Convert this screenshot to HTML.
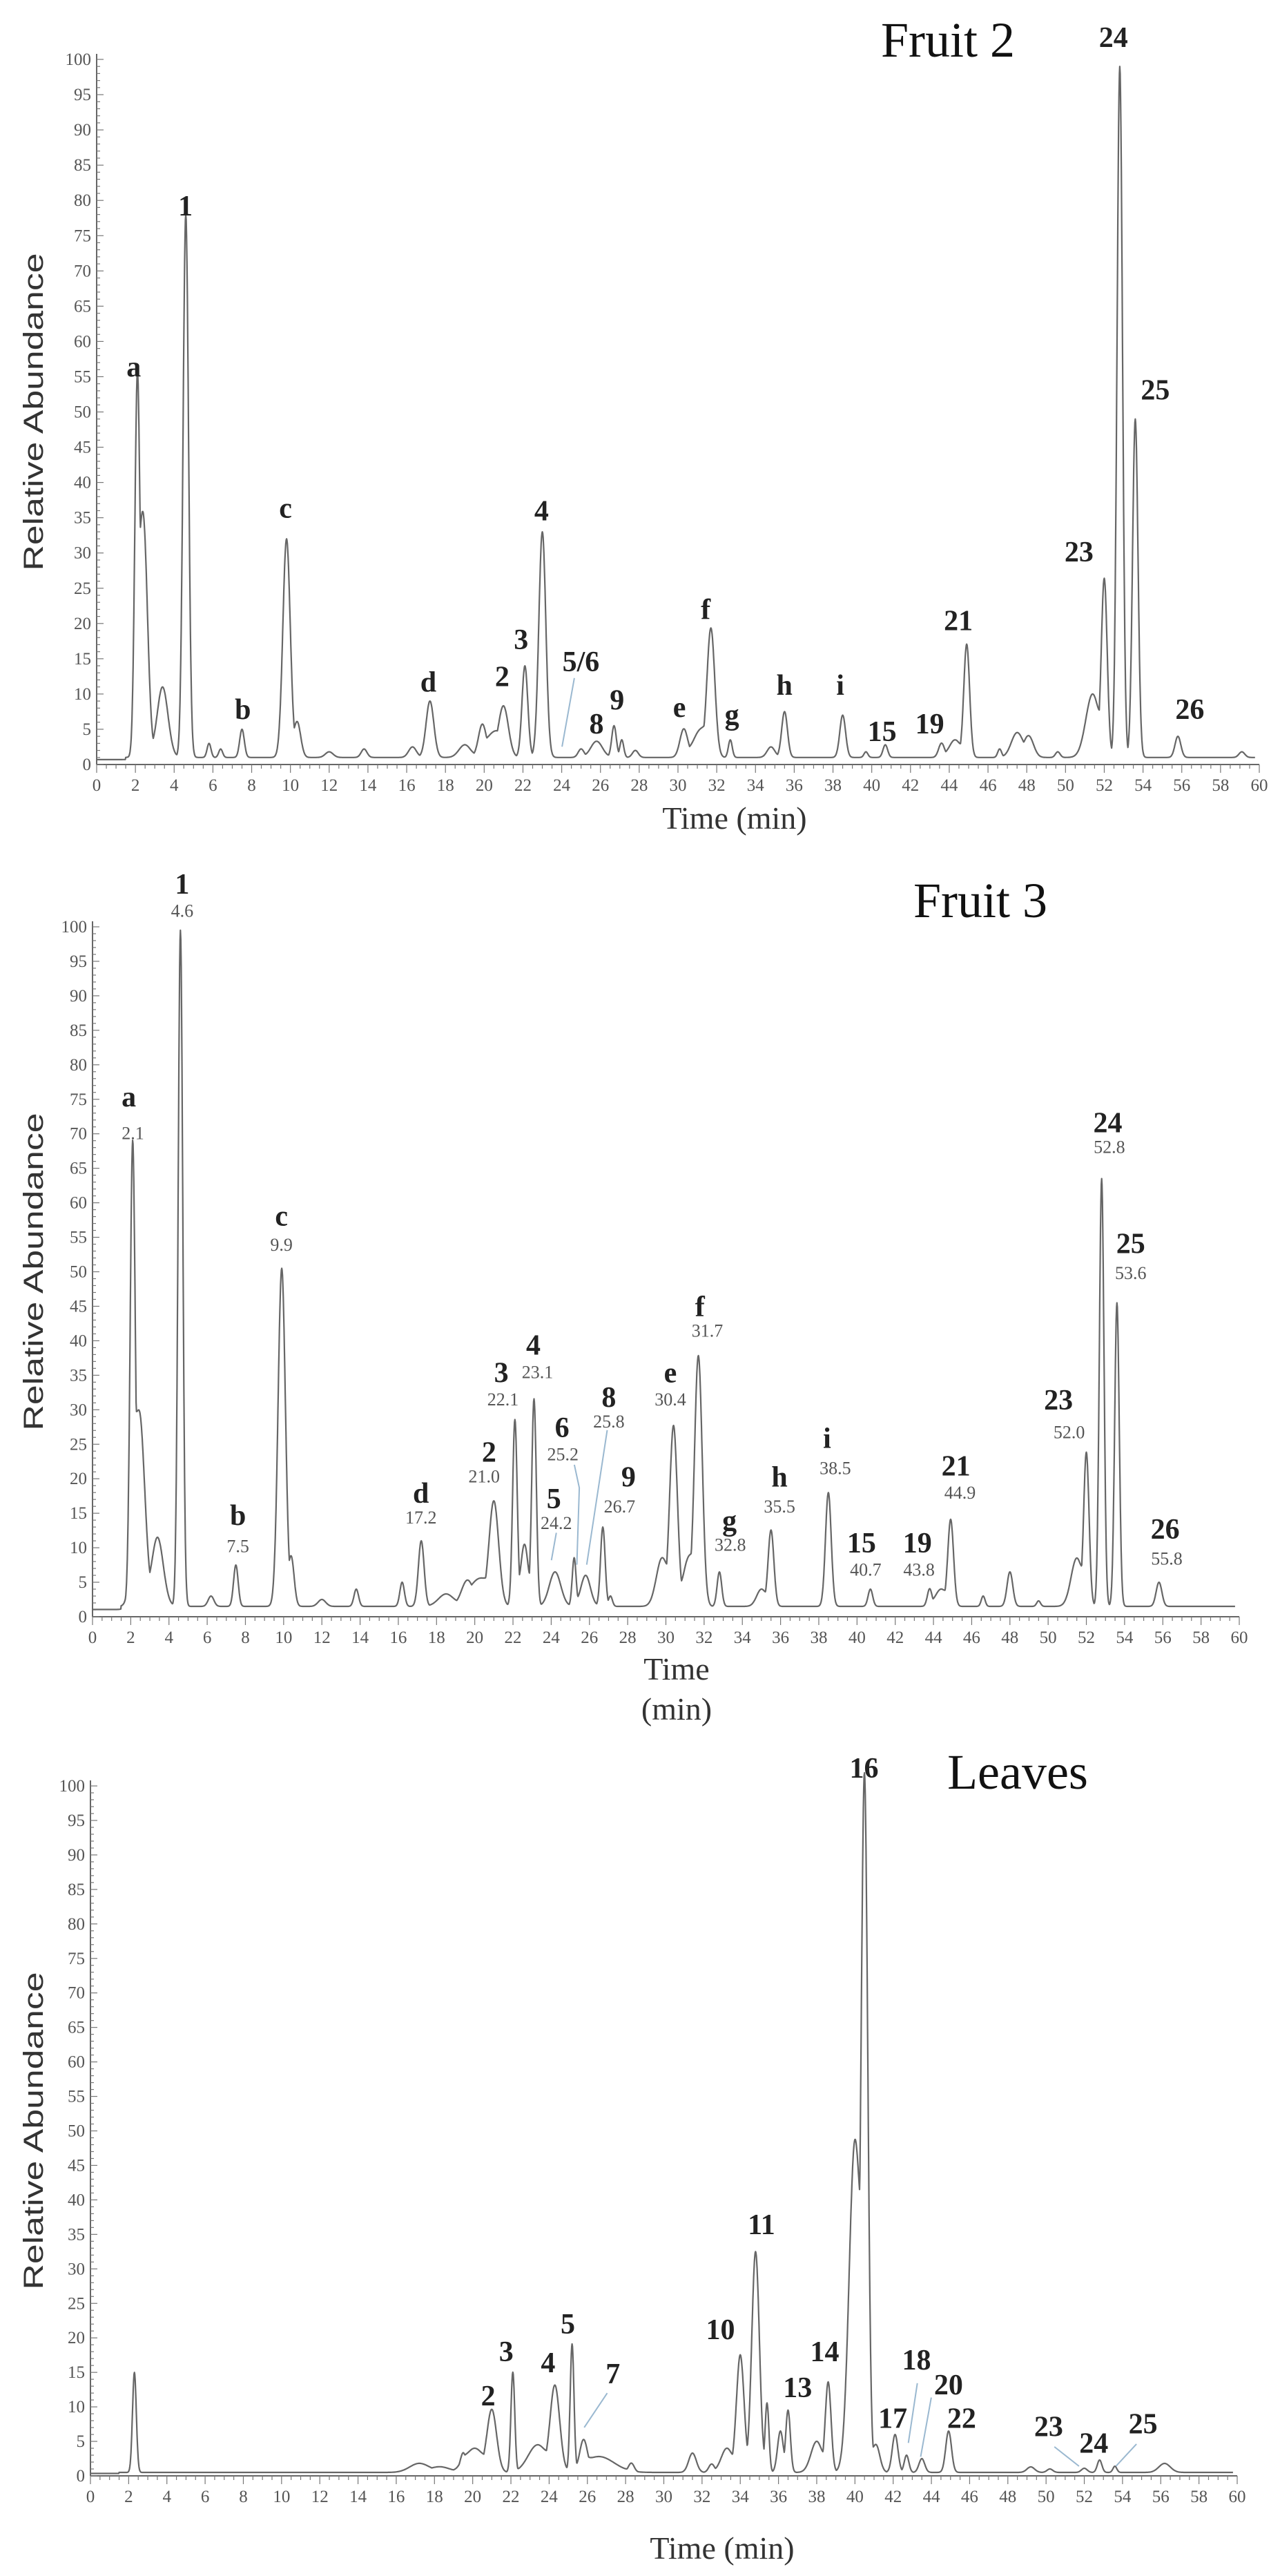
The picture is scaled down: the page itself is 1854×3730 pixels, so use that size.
<!DOCTYPE html>
<html><head><meta charset="utf-8">
<style>
html,body{margin:0;padding:0;background:#fff;}
svg{display:block;}
text{font-family:"Liberation Serif",serif;}
</style></head>
<body>
<svg id="s" width="1854" height="3730" viewBox="0 0 1854 3730" xmlns="http://www.w3.org/2000/svg">
<rect width="1854" height="3730" fill="#fff"/>
<g id="g"></g>
</svg>
<script>
var NS="http://www.w3.org/2000/svg";
var G=document.getElementById('g');
function el(t,a,txt){var e=document.createElementNS(NS,t);for(var k in a)e.setAttribute(k,a[k]);if(txt!==undefined)e.textContent=txt;G.appendChild(e);return e;}
var panels=[
{x0:140,x1:1824,y0:1107,y100:86,zoff:0,zs:0.795,base:1.0,title:"Fruit 2",tx:1373,ty:58,
 peaks:[[2.1,52,.13],[2.4,34,.22],[3.4,10,.28],[4.6,77,.14],[5.8,2,.1],[6.4,1.2,.1],[7.5,4,.12],[9.8,31,.19],[10.35,5,.18],[12,.8,.2],[13.8,1.2,.15],[16.3,1.5,.2],[17.2,8,.2],[19,1.8,.3],[19.9,4.5,.2],[20.5,3.5,.4],[21.0,7,.25],[22.1,13,.15],[23.0,32,.18],[25,1.2,.15],[25.8,2.3,.3],[26.7,4.5,.12],[27.1,2.5,.1],[27.8,1,.15],[30.3,4,.2],[31.2,4,.4],[31.7,18,.2],[32.7,2.5,.1],[34.8,1.5,.2],[35.5,6.5,.15],[38.5,6,.15],[39.7,.8,.1],[40.7,1.8,.12],[43.6,2,.15],[44.3,2.5,.3],[44.9,16,.15],[46.6,1.2,.1],[47.5,3.5,.3],[48.1,3,.25],[49.6,.8,.12],[51.4,9,.35],[52.0,25,.15],[52.8,98,.14],[53.6,48,.14],[55.8,3,.15],[59.1,.8,.15]],
 labels:[["a",163,668],["1",226,375],["b",296,1292],["c",348,925],["d",522,1242],["2",612,1232],["3",635,1165],["4",660,930],["5/6",708,1205],["8",727,1318],["9",752,1275],["e",828,1288],["f",860,1110],["g",892,1302],["h",956,1248],["i",1024,1248],["15",1075,1332],["19",1133,1318],["21",1168,1130],["23",1315,1005],["24",1357,68],["25",1408,710],["26",1450,1292]],
 small:[],
 leaders:[[[700,1235],[685,1360]]],
 xt:[[1064,1185,"Time (min)"]]},
{x0:134,x1:1795,y0:2341,y100:1342,zoff:1240,zs:0.795,base:1.5,title:"Fruit 3",tx:1420,ty:1304,
 peaks:[[2.1,65,.13],[2.45,28,.28],[3.4,10,.3],[4.6,98,.12],[6.2,1.5,.15],[7.5,6,.12],[9.9,49,.19],[10.4,7,.15],[12,1,.2],[13.8,2.5,.12],[16.2,3.5,.12],[17.2,9.5,.15],[18.5,1.8,.4],[19.6,3.5,.3],[20.3,4,.5],[21.0,15,.25],[22.1,27,.12],[22.6,9,.2],[23.1,30,.12],[24.2,5,.3],[25.2,7,.1],[25.8,4.5,.25],[26.7,11.5,.12],[27.1,1.5,.1],[29.8,7,.3],[30.4,26,.2],[31.2,7,.3],[31.7,36,.2],[32.8,5,.12],[35.0,2.5,.25],[35.5,11,.15],[38.5,16.5,.15],[40.7,2.5,.12],[43.8,2.5,.12],[44.4,2.5,.3],[44.9,12.5,.15],[46.6,1.5,.1],[48,5,.15],[49.5,.8,.1],[51.5,7,.3],[52.0,22,.14],[52.8,62,.12],[53.6,44,.12],[55.8,3.5,.15]],
 labels:[["a",157,438],["1",222,50],["b",290,1200],["c",343,655],["d",513,1160],["2",596,1085],["3",611,940],["4",650,890],["5",675,1170],["6",685,1040],["8",742,985],["9",766,1130],["e",817,940],["f",853,820],["g",889,1210],["h",950,1130],["i",1008,1060],["15",1050,1250],["19",1118,1250],["21",1165,1110],["23",1290,990],["24",1350,485],["25",1378,705],["26",1420,1225]],
 small:[["2.1",162,510],["4.6",222,105],["7.5",290,1262],["9.9",343,713],["17.2",513,1210],["21.0",590,1135],["22.1",613,995],["23.1",655,945],["24.2",678,1220],["25.2",686,1095],["25.8",742,1035],["26.7",755,1190],["30.4",817,995],["31.7",862,870],["32.8",890,1260],["35.5",950,1190],["38.5",1018,1120],["40.7",1055,1305],["43.8",1120,1305],["44.9",1170,1165],["52.0",1303,1055],["52.8",1352,535],["53.6",1378,765],["55.8",1422,1285]],
 leaders:[[[678,1232],[672,1282]],[[700,1108],[706,1150],[703,1290]],[[740,1045],[715,1290]]],
 xt:[[980,2417,"Time"],[980,2475,"(min)"]]},
{x0:131,x1:1792,y0:3585,y100:2586,zoff:2480,zs:0.801,base:0.5,title:"Leaves",tx:1474,ty:2566,
 peaks:[[2.3,14.5,.1],[17.2,1.3,.5],[18.3,.8,.5],[19.5,2.5,.15],[20.1,3.5,.5],[21.0,9,.25],[22.1,14.5,.1],[23.4,4,.5],[24.3,12.5,.25],[25.2,18.5,.1],[25.8,4.5,.2],[26.6,2.3,.8],[28.3,1.3,.15],[31.5,2.8,.2],[32.5,1.2,.15],[33.3,3.5,.3],[34.0,17,.2],[34.8,32,.2],[35.4,10,.1],[36.1,6,.15],[36.5,9,.12],[38.0,4.5,.3],[38.6,13,.15],[40.0,48,.3],[40.5,99,.17],[41.1,4,.2],[42.1,5.5,.15],[42.7,2.5,.12],[43.5,2,.15],[44.9,6,.15],[49.2,.8,.2],[50.2,.5,.15],[52.0,.6,.15],[52.8,1.8,.12],[53.6,.9,.1],[56.2,1.3,.3]],
 labels:[["16",1053,100],["2",595,1235],["3",617,1155],["4",668,1175],["5",692,1105],["7",747,1195],["10",878,1115],["11",928,925],["13",972,1220],["14",1005,1155],["17",1088,1275],["18",1117,1170],["20",1156,1215],["22",1172,1275],["23",1278,1290],["24",1333,1320],["25",1393,1285]],
 small:[],
 leaders:[[[740,1230],[712,1292]],[[1118,1212],[1107,1320]],[[1135,1238],[1122,1345]],[[1285,1327],[1315,1362]],[[1385,1322],[1360,1362]]],
 xt:[[1046,3690,"Time (min)"]]}
];
panels.forEach(function(p){
 var sx=function(t){return p.x0+(p.x1-p.x0)*t/60;};
 var sy=function(v){return p.y0-(p.y0-p.y100)*v/100;};
 var zx=function(x){return x*1.1885;}, zy=function(y){return p.zoff+y*p.zs;};
 el('line',{x1:p.x0,y1:p.y100-8,x2:p.x0,y2:p.y0,stroke:'#666','stroke-width':2});
 el('line',{x1:p.x0,y1:p.y0,x2:p.x1,y2:p.y0,stroke:'#666','stroke-width':2});
 for(var v=0;v<=100;v+=1){var y=sy(v);var L=(v%5==0)?10:5;
  el('line',{x1:p.x0,y1:y,x2:p.x0+L,y2:y,stroke:'#777','stroke-width':1.2});
  if(v%5==0){el('text',{x:p.x0-8,y:y+8,'text-anchor':'end','font-size':25,fill:'#555'},String(v));}}
 for(var t=0;t<=60;t+=0.5){var x=sx(t);var L=(t%2==0)?12:6;
  el('line',{x1:x,y1:p.y0,x2:x,y2:p.y0+L,stroke:'#777','stroke-width':1.2});
  if(t%2==0){el('text',{x:x,y:p.y0+38,'text-anchor':'middle','font-size':25,fill:'#555'},String(t));}}
 var d="";
 for(var t=0;t<=59.8;t+=0.02){var b=p.base;
  if(t<1.5)b=p.base*0.7;
  var mx=0,sm=0;
  p.peaks.forEach(function(k){var z=(t-k[0])/k[2];if(Math.abs(z)<6){var g=k[1]*Math.exp(-0.5*z*z);sm+=g;if(g>mx)mx=g;}});
  var v=b+mx+0.2*(sm-mx);
  d+=(d?"L":"M")+sx(t).toFixed(1)+" "+sy(v).toFixed(1);}
 el('path',{d:d,fill:'none',stroke:'#666','stroke-width':2.2,'stroke-linejoin':'round'});
 p.leaders.forEach(function(l){el('polyline',{points:l.map(function(q){return zx(q[0]).toFixed(1)+','+zy(q[1]).toFixed(1);}).join(' '),fill:'none',stroke:'#9ab8d0','stroke-width':2});});
 p.labels.forEach(function(l){el('text',{x:zx(l[1]),y:zy(l[2])+14,'text-anchor':'middle','font-size':42,'font-weight':'bold',fill:'#222'},l[0]);});
 p.small.forEach(function(l){el('text',{x:zx(l[1]),y:zy(l[2])+4,'text-anchor':'middle','font-size':26,fill:'#555'},l[0]);});
 el('text',{x:p.tx,y:p.ty+24,'text-anchor':'middle','font-size':72,fill:'#111'},p.title);
 var cy=(p.y0+p.y100)/2;
 el('text',{x:48,y:cy,'text-anchor':'middle','font-size':40,fill:'#333',textLength:460,lengthAdjust:'spacingAndGlyphs',transform:'rotate(-90 48 '+cy+') translate(0 14)','style':'font-family:"Liberation Sans",sans-serif'},"Relative Abundance");
 p.xt.forEach(function(x){el('text',{x:x[0],y:x[1]+15,'text-anchor':'middle','font-size':46,fill:'#333'},x[2]);});
});
</script>
</body></html>
